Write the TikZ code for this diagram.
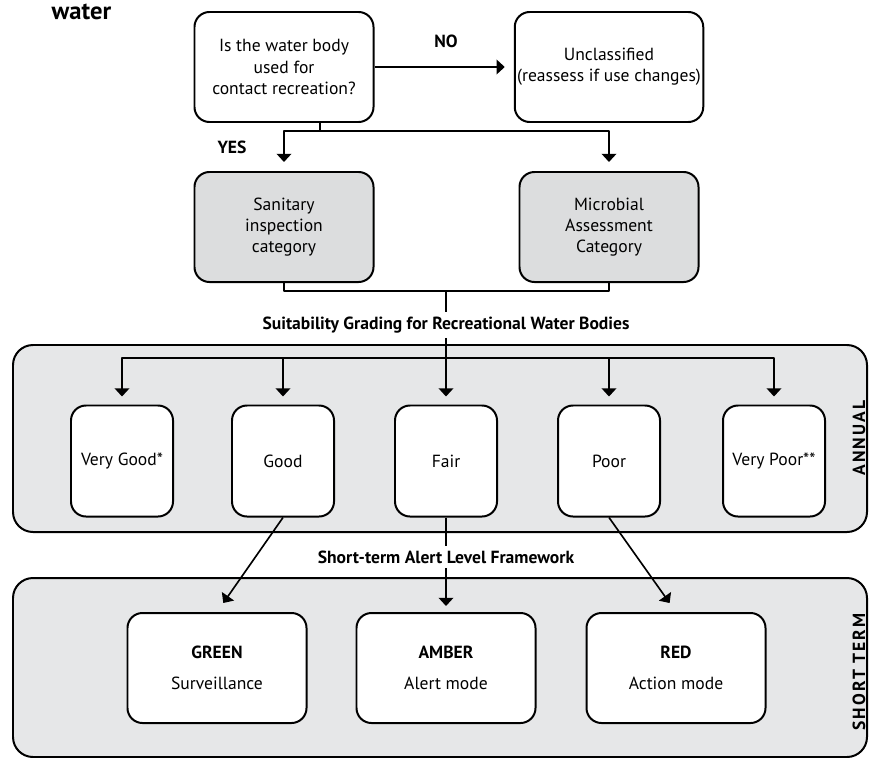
\documentclass[tikz,border=0pt]{standalone}
\usepackage{fontspec}
\setmainfont{PT Sans}
\usetikzlibrary{arrows.meta,positioning}
\definecolor{bandgray}{RGB}{230,231,232}
\definecolor{boxgray}{RGB}{220,221,222}
\newcommand\bodysize{\fontsize{15}{18}\selectfont}
\tikzset{
	bigbox/.style={draw, line width=1.7pt, rounded corners=0.45cm, fill=white, align=center, minimum width=5.37cm, minimum height=3.3cm, inner sep=2pt},
	smallbox/.style={bigbox, minimum width=3.06cm, minimum height=3.33cm},
	greybox/.style={bigbox, fill=boxgray},
	bandbox/.style={draw, line width=1.7pt, rounded corners=0.6cm, fill=bandgray},
	bandlbl/.style={rotate=90, font=\bodysize\bfseries\addfontfeature{LetterSpace=12}},
	headlbl/.style={font=\bodysize\bfseries},
}
\begin{document}
\begin{tikzpicture}[x=0.03cm, y=-0.03cm, font=\bodysize, line join=round, line width=1.4pt, >={Triangle[width=12.5pt,length=7pt]}]
	\useasboundingbox (0,0) rectangle (869,758);
	%%%%%%%%%%%%%%%%%%%%%%%%%%%%%%%%%
	\filldraw[bandbox] (13,345) rectangle (867,532);
	\filldraw[bandbox] (13,578) rectangle (867,757);
	\node[bandlbl] (annual) at (859,438) {ANNUAL};
	\node[bandlbl] (short) at (859,672) {SHORT TERM};
	%%%%%%%%%%%%%%%%%%%%%%%%%%%%%%%%%
	\node[anchor=base west, font=\fontsize{21}{24}\selectfont\bfseries] (title) at (47,20) {water};
	\node[bigbox] (q) at (284,67) {Is the water body\\used for\\contact recreation?};
	\node[bigbox] (uncl) at (609,67) {Unclassified\\(reassess if use changes)};
	\node[greybox] (san) at (284,227) {Sanitary\\inspection\\category};
	\node[greybox] (mic) at (609,227) {Microbial\\Assessment\\Category};
	\node[headlbl] (no) at (446,41) {NO};
	\node[headlbl] (yes) at (232,147) {YES};
	\node[headlbl] (grading) at (446,325) {Suitability Grading for Recreational Water Bodies};
	%%%%%%%%%%%%%%%%%%%%%%%%%%%%%%%%%
	\node[smallbox] (vg) at (122,461) {Very Good*};
	\node[smallbox] (good) at (283,461) {Good};
	\node[smallbox] (fair) at (446,461) {Fair};
	\node[smallbox] (poor) at (609,461) {Poor};
	\node[smallbox] (vp) at (774,461) {Very Poor**};
	\node[headlbl] (alert) at (446,557) {Short-term Alert Level Framework};
	%%%%%%%%%%%%%%%%%%%%%%%%%%%%%%%%%
	\node[bigbox] (green) at (217,668) {{\bfseries GREEN}\\[8pt]Surveillance};
	\node[bigbox] (amber) at (446,668) {{\bfseries AMBER}\\[8pt]Alert mode};
	\node[bigbox] (red) at (676,668) {{\bfseries RED}\\[8pt]Action mode};
	%%%%%%%%%%%%%%%%%%%%%%%%%%%%%%%%%
	\coordinate (yesJ) at (320,131);
	\coordinate (gradeJ) at (446,291);
	\coordinate (annJ) at (446,358);
	%%%%%%%%%%%%%%%%%%%%%%%%%%%%%%%%%
	\draw[->, shorten >=0.27cm] (q.east) -- (uncl.west);
	\draw (q.south -| yesJ) -- (yesJ);
	\draw[->, shorten >=0.27cm] (yesJ) -| (san.north);
	\draw[->, shorten >=0.27cm] (yesJ) -| (mic.north);
	\draw (san.south) |- (gradeJ) -| (mic.south);
	\draw (gradeJ) -- (grading.north);
	\draw (grading.south) -- (annJ);
	\foreach \g in {vg,good,fair,poor,vp}
		\draw[->, shorten >=0.24cm] (annJ) -| (\g.north);
	\draw[->, shorten >=0.33cm] (good.south) -- (green.north);
	\draw (fair.south) -- (alert.north);
	\draw[->, shorten >=0.18cm] (alert.south) -- (amber.north);
	\draw[->, shorten >=0.33cm] (poor.south) -- (red.north);
	%%%%%%%%%%%%%%%%%%%%%%%%%%%%%%%%%
\end{tikzpicture}
\end{document}
